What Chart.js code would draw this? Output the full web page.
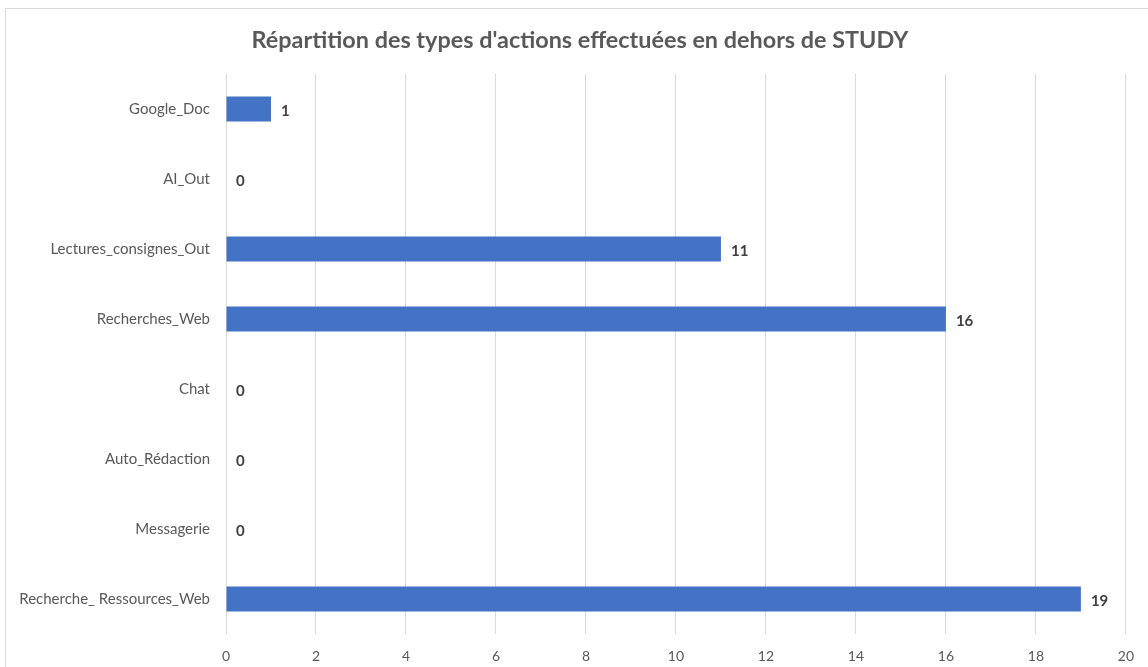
<!DOCTYPE html>
<html>
<head>
<meta charset="utf-8">
<script src="https://cdn.jsdelivr.net/npm/chart.js@4"></script>
<style>
  html, body { margin: 0; padding: 0; background: #fff; }
  #wrap { width: 1148px; height: 667px; }
</style>
</head>
<body>
<div id="wrap"><canvas id="chart" width="1148" height="667"></canvas></div>
<script>
const categories = [
  "Google_Doc",
  "AI_Out",
  "Lectures_consignes_Out",
  "Recherches_Web",
  "Chat",
  "Auto_Rédaction",
  "Messagerie",
  "Recherche_ Ressources_Web"
];
const actionCounts = [1, 0, 11, 16, 0, 0, 0, 19];
const xTicks = [0, 2, 4, 6, 8, 10, 12, 14, 16, 18, 20];
const chartTitle = "Répartition des types d'actions effectuées en dehors de STUDY";

const FONT = "Lato, 'Open Sans', sans-serif";

// white page + thin grey frame like an office chart
const frame = {
  id: "frame",
  beforeDraw(chart) {
    const { ctx } = chart;
    ctx.save();
    ctx.fillStyle = "#ffffff";
    ctx.fillRect(0, 0, chart.width, chart.height);
    ctx.strokeStyle = "#d9d9d9";
    ctx.lineWidth = 1;
    ctx.strokeRect(5.5, 8.5, chart.width + 20, chart.height + 20);
    ctx.restore();
  }
};

// title centred over the whole frame, not just the layout box
const frameTitle = {
  id: "frameTitle",
  afterDraw(chart) {
    const { ctx } = chart;
    ctx.save();
    ctx.font = "bold 23.4px " + FONT;
    ctx.fillStyle = "#595959";
    ctx.textAlign = "center";
    ctx.textBaseline = "middle";
    ctx.fillText(chartTitle, 580, 40);
    ctx.restore();
  }
};

// value next to the end of each bar
const barValues = {
  id: "barValues",
  afterDatasetsDraw(chart) {
    const { ctx } = chart;
    const meta = chart.getDatasetMeta(0);
    const xs = chart.scales.x;
    ctx.save();
    ctx.font = "bold 15px " + FONT;
    ctx.fillStyle = "#404040";
    ctx.textAlign = "left";
    ctx.textBaseline = "middle";
    meta.data.forEach((bar, i) => {
      const v = actionCounts[i];
      ctx.fillText(String(v), xs.getPixelForValue(v) + 10, bar.y + 2);
    });
    ctx.restore();
  }
};

new Chart(document.getElementById("chart"), {
  type: "bar",
  data: {
    labels: categories,
    datasets: [{
      data: actionCounts,
      backgroundColor: "#4472C4",
      borderWidth: 0,
      barPercentage: 0.36,
      categoryPercentage: 1
    }]
  },
  options: {
    indexAxis: "y",
    responsive: false,
    animation: false,
    layout: { padding: { left: 0, right: 21, top: 74, bottom: 0 } },
    plugins: {
      legend: { display: false },
      tooltip: { enabled: false },
      title: { display: false }
    },
    scales: {
      x: {
        min: 0,
        max: 20,
        afterBuildTicks(scale) {
          scale.ticks = xTicks.map(v => ({ value: v }));
        },
        afterFit(scale) { scale.height = 33; },
        grid: { color: "#d9d9d9", drawTicks: false },
        border: { display: false },
        ticks: {
          color: "#595959",
          font: { family: FONT, size: 14 },
          padding: 14
        }
      },
      y: {
        afterFit(scale) { scale.width = 226; },
        grid: { display: false, drawTicks: false },
        border: { display: false },
        ticks: {
          color: "#595959",
          font: { family: FONT, size: 15 },
          padding: 16
        }
      }
    }
  },
  plugins: [frame, barValues, frameTitle]
});
</script>
</body>
</html>
